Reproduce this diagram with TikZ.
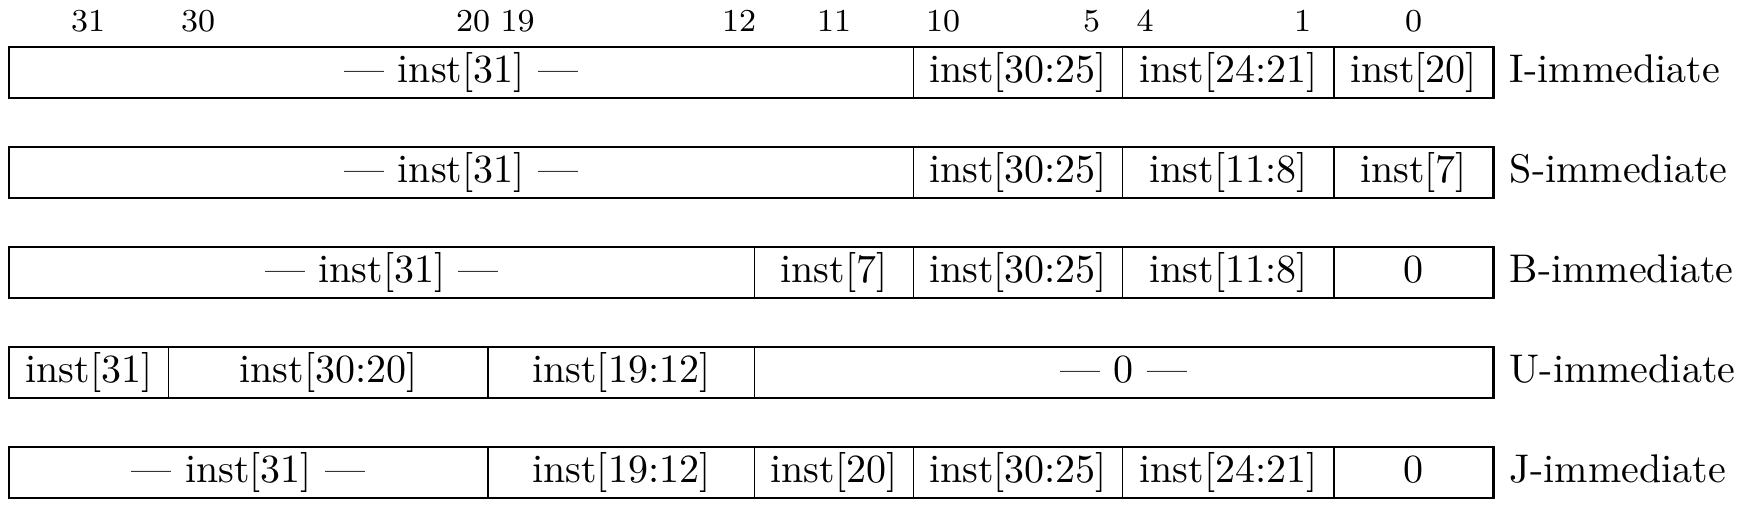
\documentclass[tikz,border=0pt]{standalone}
\begin{document}
\begin{tikzpicture}[x=0.25pt,y=-0.25pt,
  cellbox/.style={draw=black,line width=0.35pt,inner sep=0pt,minimum height=12.5pt,
    text height=0.75em,text depth=0.25em,font=\normalsize},
  outerbox/.style={draw=black,line width=0.5pt},
  hdr/.style={anchor=base,inner sep=0pt,font=\footnotesize},
  rowlab/.style={anchor=base west,inner sep=0pt,font=\normalsize}]
\useasboundingbox (0,0) rectangle (1740,507);
\def\cxA{9.3}\def\cxB{168.7}\def\cxC{488}\def\cxD{754.6}
\def\cxE{913.3}\def\cxF{1122.7}\def\cxG{1334}\def\cxH{1493}
\newcommand\fld[5]{\node[cellbox,minimum width={(#3-#2)*0.25pt}] (#1) at ({(#2+#3)/2},{#4+25}) {#5};}
% header bit numbers
\node[hdr] (h31) at (88,31.7) {31};
\node[hdr] (h30) at (198,31.7) {30};
\node[hdr] (h20) at (473,31.7) {20};
\node[hdr] (h19) at (517.5,31.7) {19};
\node[hdr] (h12) at (739,31.7) {12};
\node[hdr] (h11) at (834,31.7) {11};
\node[hdr] (h10) at (943,31.7) {10};
\node[hdr] (h5) at (1091.5,31.7) {5};
\node[hdr] (h4) at (1145,31.7) {4};
\node[hdr] (h1) at (1302.5,31.7) {1};
\node[hdr] (h0) at (1413.5,31.7) {0};
% I-immediate
\fld{ia}{\cxA}{\cxE}{47.5}{--- inst[31] ---}
\fld{ib}{\cxE}{\cxF}{47.5}{inst[30:25]}
\fld{ic}{\cxF}{\cxG}{47.5}{inst[24:21]}
\fld{id}{\cxG}{\cxH}{47.5}{inst[20]}
\draw[outerbox] (ia.north west) rectangle (id.south east);
\node[rowlab] (li) at (1509,82.7) {I-immediate};
% S-immediate
\fld{sa}{\cxA}{\cxE}{147.5}{--- inst[31] ---}
\fld{sb}{\cxE}{\cxF}{147.5}{inst[30:25]}
\fld{sc}{\cxF}{\cxG}{147.5}{inst[11:8]}
\fld{sd}{\cxG}{\cxH}{147.5}{inst[7]}
\draw[outerbox] (sa.north west) rectangle (sd.south east);
\node[rowlab] (ls) at (1509,182.7) {S-immediate};
% B-immediate
\fld{ba}{\cxA}{\cxD}{247.5}{--- inst[31] ---}
\fld{bb}{\cxD}{\cxE}{247.5}{inst[7]}
\fld{bc}{\cxE}{\cxF}{247.5}{inst[30:25]}
\fld{bd}{\cxF}{\cxG}{247.5}{inst[11:8]}
\fld{be}{\cxG}{\cxH}{247.5}{0}
\draw[outerbox] (ba.north west) rectangle (be.south east);
\node[rowlab] (lb) at (1509,282.7) {B-immediate};
% U-immediate
\fld{ua}{\cxA}{\cxB}{347.5}{inst[31]}
\fld{ub}{\cxB}{\cxC}{347.5}{inst[30:20]}
\fld{uc}{\cxC}{\cxD}{347.5}{inst[19:12]}
\fld{ud}{\cxD}{\cxH}{347.5}{--- 0 ---}
\draw[outerbox] (ua.north west) rectangle (ud.south east);
\node[rowlab] (lu) at (1509,382.7) {U-immediate};
% J-immediate
\fld{ja}{\cxA}{\cxC}{447.5}{--- inst[31] ---}
\fld{jb}{\cxC}{\cxD}{447.5}{inst[19:12]}
\fld{jc}{\cxD}{\cxE}{447.5}{inst[20]}
\fld{jd}{\cxE}{\cxF}{447.5}{inst[30:25]}
\fld{je}{\cxF}{\cxG}{447.5}{inst[24:21]}
\fld{jf}{\cxG}{\cxH}{447.5}{0}
\draw[outerbox] (ja.north west) rectangle (jf.south east);
\node[rowlab] (lj) at (1509,482.7) {J-immediate};
\end{tikzpicture}
\end{document}
